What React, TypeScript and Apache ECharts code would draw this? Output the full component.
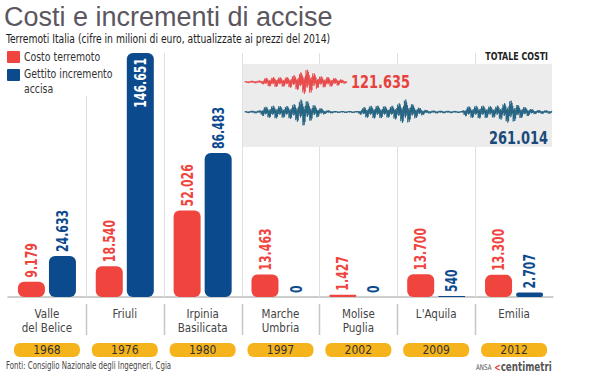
import React, { useEffect, useRef } from "react";
import * as echarts from "echarts";

const categories = [
  "Valle\ndel Belice",
  "Friuli",
  "Irpinia\nBasilicata",
  "Marche\nUmbria",
  "Molise\nPuglia",
  "L'Aquila",
  "Emilia",
];
const years = ["1968", "1976", "1980", "1997", "2002", "2009", "2012"];
// milioni di euro
const costoTerremoto = [9179, 18540, 52026, 13463, 1427, 13700, 13300];
const gettitoAccisa = [24633, 146651, 86483, 0, 0, 540, 2707];
const boundaries = [1, 2, 3, 4, 5, 6];

// decorative waveform envelopes: [x, amplitude]
const redWave: number[][] = [
  [245, 1], [262, 1.5], [265, 4], [275, 5], [285, 4.5], [292, 6], [300, 9], [306, 13],
  [312, 10], [318, 6], [328, 5], [338, 3.5], [345, 1.5], [347, 1],
];
const blueWave: number[][] = [
  [245, 1], [260, 1.5], [264, 5], [275, 6.5], [285, 5.5], [295, 8], [303, 14], [310, 9],
  [318, 5], [325, 2], [335, 1], [358, 1], [365, 5.5], [375, 6.5], [390, 5.5], [400, 9],
  [405, 13], [412, 8], [420, 4], [428, 1.5], [462, 1], [467, 5.5], [480, 6.5], [495, 5.5],
  [505, 9], [510, 12], [518, 7], [528, 4], [535, 2], [552, 1.5],
];
const texture = [1, 0.3, 0.85, 0.15, 0.6, 0.95, 0.25, 0.7, 0.4, 1, 0.2, 0.8, 0.5, 0.35, 0.9, 0.1, 0.65, 0.45];

const RED = "#f0443e";
const BLUE = "#0c4a8e";
const NARROW = "'DejaVu Sans Condensed', 'DejaVu Sans', sans-serif";

const fmt = (n: number) => String(n).replace(/\B(?=(\d{3})+(?!\d))/g, ".");
const sum = (a: number[]) => a.reduce((s, v) => s + v, 0);

function wavePoints(env: number[][], cy: number) {
  const pts: number[][] = [];
  let k = 0;
  for (let s = 0; s < env.length - 1; s++) {
    const [x0, a0] = env[s];
    const [x1, a1] = env[s + 1];
    for (let x = x0; x < x1; x += 0.4) {
      const t = (x - x0) / (x1 - x0);
      const a = (a0 + (a1 - a0) * t) * texture[k % texture.length];
      pts.push([x, cy + (k % 2 === 0 ? -a : a)]);
      k++;
    }
  }
  return pts;
}

export default function App() {
  const ref = useRef<HTMLDivElement>(null);
  useEffect(() => {
    if (!ref.current) return;
    const chart = echarts.init(ref.current, null, { renderer: "svg" });
    const yMax = Math.max(...gettitoAccisa, ...costoTerremoto);
    const labelItems: number[][] = [];
    categories.forEach((_, i) => {
      labelItems.push([i, costoTerremoto[i], 0]);
      labelItems.push([i, gettitoAccisa[i], 1]);
    });

    chart.setOption({
      animation: false,
      backgroundColor: "#fff",
      title: {
        text: "Costi e incrementi di accise",
        left: 4,
        top: 3,
        padding: 0,
        textStyle: {
          fontSize: 27,
          lineHeight: 28,
          fontWeight: "normal",
          color: "#5b5660",
          fontFamily: "'Liberation Sans', Arial, sans-serif",
        },
      },
      grid: { left: 8, right: 51, top: 53, bottom: 79, containLabel: false },
      xAxis: [
        {
          type: "category",
          data: categories,
          axisLine: { show: true, lineStyle: { color: "#bdbdbd", width: 1.5 } },
          axisTick: { show: false },
          axisLabel: {
            interval: 0,
            margin: 10,
            color: "#444",
            fontSize: 11.5,
            lineHeight: 14,
            fontFamily: NARROW,
          },
        },
        {
          type: "category",
          data: years,
          position: "bottom",
          offset: 46,
          axisLine: { show: false },
          axisTick: { show: false },
          axisLabel: {
            interval: 0,
            margin: 0,
            color: "#333",
            fontSize: 12,
            lineHeight: 14,
            height: 14,
            width: 66,
            align: "center",
            backgroundColor: "#f6b41c",
            borderRadius: 6,
            fontFamily: NARROW,
          },
        },
      ],
      yAxis: { type: "value", min: 0, max: yMax, show: false, splitLine: { show: false } },
      series: [
        {
          type: "custom",
          name: "separatori",
          silent: true,
          z: 1,
          clip: false,
          data: boundaries.map((b) => [b, 0]),
          renderItem: (_p: any, api: any) => {
            const idx = api.value(0);
            const band = api.size([1, 0])[0];
            const x = Math.round(api.coord([idx, 0])[0] - band / 2) + 0.5;
            const yBase = api.coord([idx, 0])[1];
            const yTop = api.coord([idx, yMax])[1];
            return {
              type: "group",
              children: [
                { type: "line", shape: { x1: x, y1: yTop, x2: x, y2: yBase }, style: { stroke: "#e0e0e0", lineWidth: 1 } },
                { type: "line", shape: { x1: x, y1: yBase + 7, x2: x, y2: yBase + 38 }, style: { stroke: "#c6c6c6", lineWidth: 1.5 } },
              ],
            };
          },
        },
        {
          type: "bar",
          name: "Costo terremoto",
          data: costoTerremoto,
          barWidth: 27,
          barGap: "15%",
          z: 3,
          itemStyle: { color: RED, borderRadius: 6 },
        },
        {
          type: "bar",
          name: "Gettito incremento accisa",
          data: gettitoAccisa,
          barWidth: 27,
          z: 3,
          itemStyle: { color: BLUE, borderRadius: 6 },
        },
        {
          type: "custom",
          name: "etichette",
          silent: true,
          z: 4,
          clip: false,
          data: labelItems,
          renderItem: (_p: any, api: any) => {
            const i = api.value(0);
            const v = api.value(1);
            const s = api.value(2);
            const pt = api.coord([i, v]);
            const inside = v === yMax;
            return {
              type: "text",
              x: pt[0] + (s === 0 ? -15.5 : 15.5),
              y: inside ? pt[1] + 5 : pt[1] - 4,
              rotation: Math.PI / 2,
              scaleX: 0.76,
              style: {
                text: fmt(v),
                fill: inside ? "#fff" : s === 0 ? RED : BLUE,
                fontSize: 16,
                fontWeight: "bold",
                fontFamily: NARROW,
                align: inside ? "right" : "left",
                verticalAlign: "middle",
              },
            };
          },
        },
      ],
      graphic: [
        // subtitle
        { type: "text", z: 11, x: 6, y: 39, scaleX: 0.79, style: { text: "Terremoti Italia (cifre in milioni di euro, attualizzate ai prezzi del 2014)", fill: "#222", fontSize: 13, fontFamily: NARROW, verticalAlign: "middle" } },
        // legend
        { type: "rect", z: 10, shape: { x: 0, y: 46, width: 114, height: 50 }, style: { fill: "#fff" } },
        { type: "rect", z: 11, shape: { x: 7, y: 51, width: 13, height: 12, r: 1 }, style: { fill: RED } },
        { type: "text", z: 11, x: 24, y: 57, scaleX: 0.8, style: { text: "Costo terremoto", fill: "#333", fontSize: 13, lineHeight: 14, fontFamily: NARROW, verticalAlign: "middle" } },
        { type: "rect", z: 11, shape: { x: 7, y: 69, width: 13, height: 12, r: 1 }, style: { fill: BLUE } },
        { type: "text", z: 11, x: 24, y: 66.5, scaleX: 0.8, style: { text: "Gettito incremento\naccisa", fill: "#333", fontSize: 13, lineHeight: 14.5, fontFamily: NARROW, verticalAlign: "top" } },
        // totale costi box
        { type: "text", z: 11, x: 548, y: 56, scaleX: 0.8, style: { text: "TOTALE COSTI", fill: "#222", fontSize: 11, fontWeight: "bold", fontFamily: NARROW, align: "right", verticalAlign: "middle" } },
        { type: "rect", z: 10, shape: { x: 243, y: 64, width: 309, height: 83 }, style: { fill: "#ececec" } },
        { type: "polyline", z: 11, shape: { points: wavePoints(redWave, 82) }, style: { stroke: "#e84545", lineWidth: 0.8, fill: null } },
        { type: "polyline", z: 11, shape: { points: wavePoints(blueWave, 112) }, style: { stroke: "#1f5f7f", lineWidth: 0.8, fill: null } },
        { type: "text", z: 12, x: 351, y: 82, scaleX: 0.8, style: { text: fmt(sum(costoTerremoto)), fill: "#e8413c", fontSize: 18, fontWeight: "bold", fontFamily: NARROW, verticalAlign: "middle" } },
        { type: "text", z: 12, x: 548, y: 138, scaleX: 0.8, style: { text: fmt(sum(gettitoAccisa)), fill: "#1a4a7a", fontSize: 18, fontWeight: "bold", fontFamily: NARROW, align: "right", verticalAlign: "middle" } },
        // footer
        { type: "text", z: 11, x: 6, y: 366, scaleX: 0.78, style: { text: "Fonti: Consiglio Nazionale degli Ingegneri, Cgia", fill: "#444", fontSize: 10, fontFamily: NARROW, verticalAlign: "middle" } },
        {
          type: "text",
          z: 11,
          x: 476,
          y: 367,
          scaleX: 0.78,
          style: {
            text: "{a|ANSA} {b|<}{c|centimetri}",
            verticalAlign: "middle",
            rich: {
              a: { fontSize: 8, fill: "#555", fontFamily: NARROW },
              b: { fontSize: 11, fontWeight: "bold", fill: "#e8413c", fontFamily: NARROW },
              c: { fontSize: 12.5, fontWeight: "bold", fill: "#555", fontFamily: NARROW },
            },
          },
        },
      ],
    });
    return () => chart.dispose();
  }, []);
  return <div ref={ref} style={{ position: "absolute", left: 0, top: 0, width: 604, height: 376 }} />;
}
